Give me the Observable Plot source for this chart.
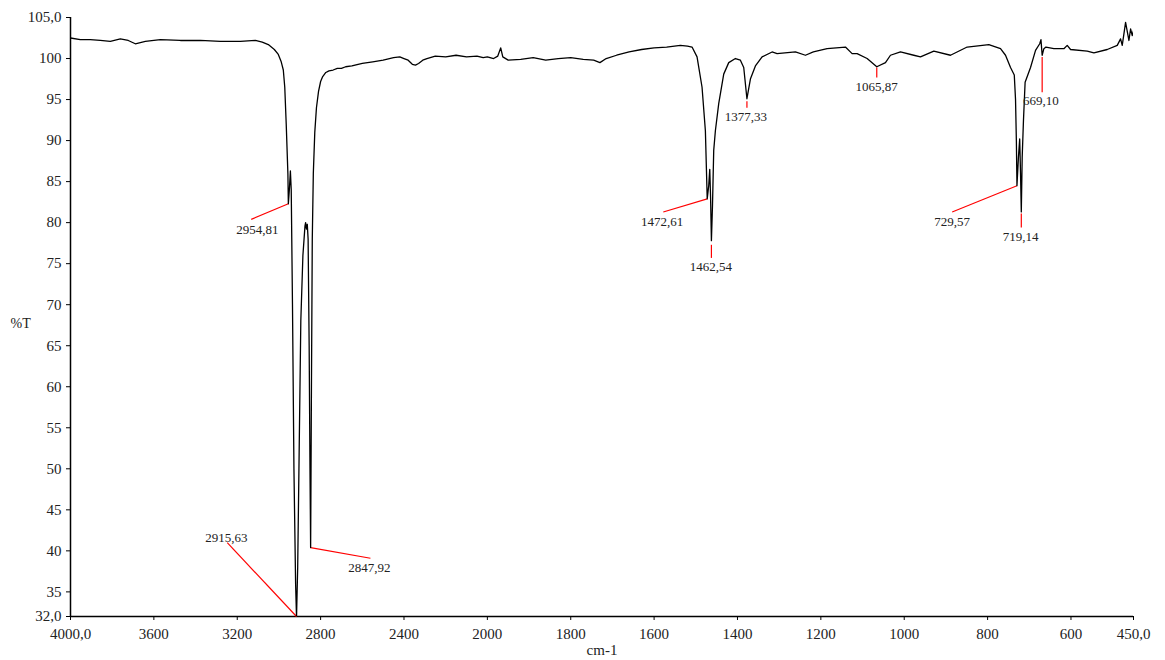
<!DOCTYPE html>
<html>
<head>
<meta charset="utf-8">
<script src="https://cdn.jsdelivr.net/npm/d3@7"></script>
<script src="https://cdn.jsdelivr.net/npm/@observablehq/plot@0.6"></script>
<style>
  html, body { margin: 0; padding: 0; background: #fff; }
  #chart svg { display: block; }
</style>
</head>
<body>
<div id="chart"></div>
<script>
// Wavenumbers (cm-1) of the traced spectrum
const wavenumber = [
  4000, 3953, 3905, 3857, 3809, 3761, 3723, 3689, 3641, 3569, 3473, 3377, 3281, 3185, 3113, 3080, 3051, 3022, 3003, 2989,
  2979, 2972, 2965, 2957, 2954.81, 2950, 2945, 2941, 2935, 2928, 2920, 2915.63, 2910, 2903, 2895, 2885, 2875, 2872, 2868, 2864,
  2860, 2855, 2851, 2847.92, 2844, 2840, 2835, 2828, 2820, 2810, 2800, 2790, 2775, 2760, 2740, 2720, 2700, 2680, 2650, 2600,
  2550, 2500, 2450, 2420, 2400, 2380, 2360, 2345, 2330, 2310, 2290, 2250, 2200, 2150, 2100, 2050, 2020, 2000, 1985, 1975,
  1968, 1963, 1950, 1920, 1890, 1860, 1830, 1800, 1770, 1745, 1730, 1715, 1690, 1660, 1630, 1600, 1570, 1537, 1520, 1509,
  1497, 1485, 1477, 1472.61, 1469, 1466.5, 1464.5, 1462.54, 1460, 1457, 1453, 1445, 1433, 1421, 1405, 1393, 1385, 1377.33, 1369, 1357,
  1341, 1317, 1305, 1261, 1237, 1218, 1185, 1141, 1125, 1113, 1089, 1065.87, 1045, 1033, 1009, 977, 961, 929, 889, 849,
  797, 769, 757, 745, 736, 733, 731, 729.57, 726, 723, 721, 719.14, 717, 714, 710, 697, 685, 675, 672, 669.1,
  665, 660, 641, 617, 609, 601, 561, 545, 513, 489, 481, 477, 469, 461, 457, 453, 450
];
// Transmittance (%T) at each wavenumber
const transmittance = [
  102.5, 102.3, 102.3, 102.2, 102.1, 102.4, 102.2, 101.8, 102.1, 102.3, 102.2, 102.2, 102.1, 102.1, 102.2, 102.0, 101.7, 101.1, 100.5, 99.6,
  98.6, 96.5, 92.0, 86.0, 82.3, 84.0, 86.3, 84.0, 70.0, 50.0, 36.0, 31.9, 38.0, 52.0, 68.0, 76.0, 79.6, 80.0, 79.2, 79.8,
  78.0, 65.0, 50.0, 40.4, 60.0, 78.0, 86.0, 91.0, 94.0, 96.0, 97.2, 97.8, 98.3, 98.5, 98.6, 98.8, 98.8, 99.0, 99.1, 99.4,
  99.6, 99.8, 100.1, 100.2, 100.0, 99.8, 99.3, 99.2, 99.4, 99.8, 100.0, 100.3, 100.2, 100.4, 100.2, 100.3, 100.1, 100.2, 100.0, 100.3,
  101.3, 100.2, 99.8, 99.9, 100.1, 99.8, 100.0, 100.1, 99.9, 99.8, 99.5, 100.0, 100.4, 100.8, 101.1, 101.3, 101.4, 101.6, 101.5, 101.4,
  100.2, 96.5, 91.2, 82.9, 84.5, 86.5, 83.0, 77.8, 82.0, 88.8, 91.2, 94.5, 98.1, 99.5, 100.0, 99.8, 98.9, 95.1, 97.5, 99.1,
  100.2, 100.8, 100.6, 100.8, 100.4, 100.8, 101.2, 101.4, 100.6, 100.6, 100.0, 99.0, 99.5, 100.4, 100.8, 100.4, 100.2, 100.9, 100.4, 101.4,
  101.7, 101.2, 100.4, 98.9, 98.0, 95.0, 90.0, 84.5, 88.0, 90.2, 86.0, 81.3, 88.0, 92.4, 97.1, 98.9, 101.0, 101.8, 102.3, 100.4,
  101.2, 101.4, 101.2, 101.2, 101.6, 101.1, 100.9, 100.7, 101.1, 101.6, 102.4, 101.6, 104.4, 102.2, 103.6, 102.8, 103.4
];

// Peak annotations: labelled peak, red pointer from (peak, tipT) to (endWn, endT), label at (labelWn, labelT)
const peakLabels = ["2954,81", "2915,63", "2847,92", "1472,61", "1462,54", "1377,33", "1065,87", "729,57", "719,14", "669,10"];
const peakWn     = [2954.81, 2915.63, 2847.92, 1472.61, 1462.54, 1377.33, 1065.87, 729.57, 719.14, 669.10];
const tipT       = [82.3, 32.0, 40.4, 82.9, 77.3, 94.8, 98.9, 84.5, 81.1, 100.2];
const endWn      = [3133, 3248, 2561, 1578, 1462.54, 1377.33, 1065.87, 885, 719.14, 669.10];
const endT       = [80.4, 41.0, 39.1, 81.3, 75.7, 94.0, 97.7, 81.3, 79.4, 95.9];
const labelWn    = [3104, 3252, 2566, 1581, 1464, 1380, 1066, 885, 721, 672];
const labelT     = [79.1, 41.6, 37.9, 80.1, 74.6, 92.9, 96.6, 80.1, 78.3, 94.8];

// Axis ticks
const xTicks = [4000, 3600, 3200, 2800, 2400, 2000, 1800, 1600, 1400, 1200, 1000, 800, 600, 450];
const yTicks = [32, 35, 40, 45, 50, 55, 60, 65, 70, 75, 80, 85, 90, 95, 100, 105];

const spectrum = wavenumber.map((w, i) => ({w, t: transmittance[i]}));
const peaks = peakLabels.map((label, i) => ({
  label, w: peakWn[i], t: tipT[i], w2: endWn[i], t2: endT[i], lw: labelWn[i], lt: labelT[i]
}));

const W = 1165, H = 660;
const mL = 70, mR = 32, mT = 17, mB = 44;
const left = mL, right = W - mR;
// spectrometer-style axis: region below 2000 cm-1 is expanded 2x
const mid = left + (right - left) * (2000 / (2000 + 1550 * 2));

const fmtEnd = (d, ends) => ends.includes(d) ? d.toFixed(1).replace(".", ",") : String(d);

const chart = Plot.plot({
  width: W,
  height: H,
  marginLeft: mL,
  marginRight: mR,
  marginTop: mT,
  marginBottom: mB,
  style: {fontFamily: "'Liberation Serif', 'DejaVu Serif', serif", fontSize: "15px", color: "#222", background: "#fff"},
  x: {type: "linear", domain: [4000, 2000, 450], range: [left, mid, right]},
  y: {domain: [32, 105]},
  marks: [
    Plot.axisX({ticks: xTicks, tickFormat: d => fmtEnd(d, [4000, 450]), tickSize: 4, tickPadding: 8,
      label: "cm-1", labelAnchor: "center", labelArrow: "none", labelOffset: 38, fontSize: 15, stroke: "#000"}),
    Plot.axisY({ticks: yTicks, tickFormat: d => fmtEnd(d, [32, 105]), tickSize: 4, tickPadding: 5,
      label: null, fontSize: 15, stroke: "#000"}),
    Plot.ruleY([32], {stroke: "#000", strokeWidth: 1.5}),
    Plot.ruleX([4000], {stroke: "#000", strokeWidth: 1.5}),
    Plot.text(["%T"], {frameAnchor: "left", dx: -60, dy: 7, textAnchor: "start", fontSize: 14, fill: "#222"}),
    Plot.link(peaks, {x1: "w", y1: "t", x2: "w2", y2: "t2", stroke: "#ff0000", strokeWidth: 1.2}),
    Plot.line(spectrum, {x: "w", y: "t", stroke: "#000", strokeWidth: 1.3, clip: true, curve: "linear"}),
    Plot.text(peaks, {x: "lw", y: "lt", text: "label", fontSize: 13, fill: "#222", lineAnchor: "middle"})
  ]
});
document.getElementById("chart").appendChild(chart);
</script>
</body>
</html>
